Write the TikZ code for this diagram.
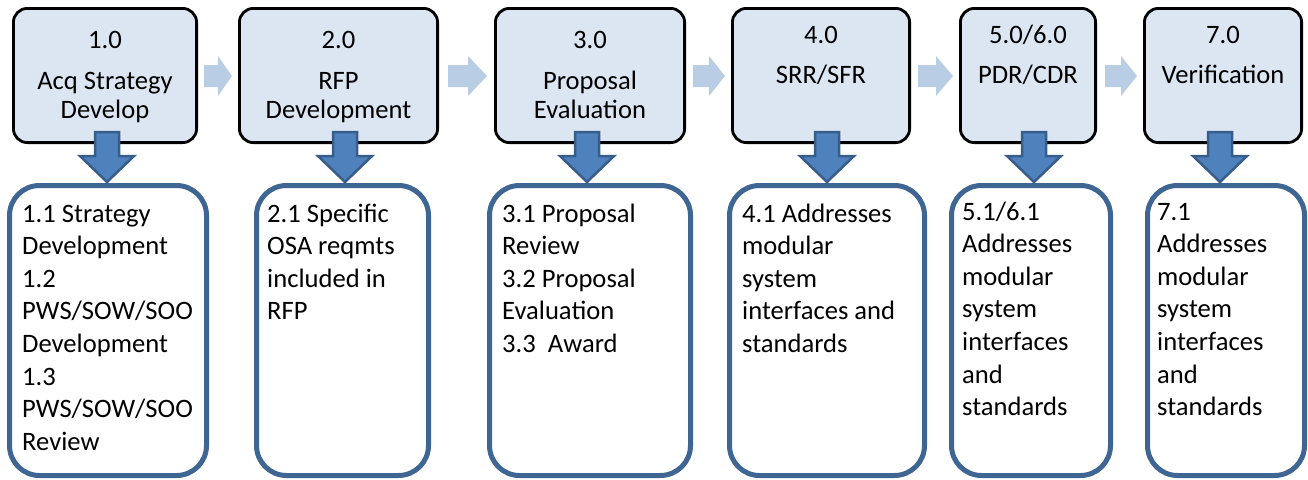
\documentclass[tikz,border=0pt]{standalone}
\usepackage{fontspec}
\setmainfont{Carlito}
\usetikzlibrary{calc}
\definecolor{stagefill}{HTML}{DCE6F2}
\definecolor{flowfill}{HTML}{B9CDE5}
\definecolor{dropfill}{HTML}{4F81BD}
\definecolor{dropline}{HTML}{385D8A}
\definecolor{taskline}{HTML}{3F6593}

\begin{document}
\begin{tikzpicture}[x=1pt,y=-1pt,
  stage/.style={draw=black, line width=2.8pt, fill=stagefill, rounded corners=14pt, inner sep=0pt},
  task/.style={draw=taskline, line width=5pt, fill=white, rounded corners=30pt, inner sep=0pt, minimum height=290pt},
  stagetext/.style={align=center, inner sep=0pt, anchor=base, font=\fontsize{26.6}{29}\selectfont},
  tasktext/.style={align=left, inner sep=0pt, anchor=base west, font=\fontsize{26.6}{32.6}\selectfont},
  flow/.style={fill=flowfill, draw=none},
  drop/.style={fill=dropfill, draw=dropline, line width=2.5pt, line join=miter},
  pics/downarrow/.style={code={
    \draw[drop] (-12,0) -- (12,0) -- (12,24) -- (27,24) -- (0,50)
      -- (-27,24) -- (-12,24) -- cycle;
  }},
]
\useasboundingbox (0,0) rectangle (1308,479);

% lower task boxes
\node[task, minimum width=197pt] (t1) at (108,330.5) {};
\node[task, minimum width=172pt] (t2) at (342.5,330.5) {};
\node[task, minimum width=201pt] (t3) at (590,330.5) {};
\node[task, minimum width=195pt] (t4) at (827,330.5) {};
\node[task, minimum width=159pt] (t5) at (1031,330.5) {};
\node[task, minimum width=157pt] (t6) at (1226,330.5) {};

% upper stage boxes
\node[stage, minimum width=183.2pt, minimum height=134.2pt] (s1) at (105,75.5) {};
\node[stage, minimum width=198.2pt, minimum height=134.2pt] (s2) at (338.5,75.5) {};
\node[stage, minimum width=189.2pt, minimum height=134.2pt] (s3) at (590,75.5) {};
\node[stage, minimum width=177.2pt, minimum height=134.2pt] (s4) at (821,75.5) {};
\node[stage, minimum width=135.2pt, minimum height=134.2pt] (s5) at (1028,75.5) {};
\node[stage, minimum width=157.2pt, minimum height=134.2pt] (s6) at (1223,75.5) {};

% stage titles (anchored at the baseline of the last line)
\node[stagetext] (l1) at (105,118) {1.0\\[12pt]Acq Strategy\\Develop};
\node[stagetext] (l2) at (338.5,118) {2.0\\[12pt]RFP\\Development};
\node[stagetext] (l3) at (590,118) {3.0\\[12pt]Proposal\\Evaluation};
\node[stagetext] (l4) at (821,83) {4.0\\[11pt]SRR/SFR};
\node[stagetext] (l5) at (1028,83) {5.0/6.0\\[11pt]PDR/CDR};
\node[stagetext] (l6) at (1223,83) {7.0\\[11pt]Verification};

% task texts (anchored at the baseline of the last line)
\node[tasktext] (x1) at (22,450.2) {1.1 Strategy\\Development\\1.2\\PWS/SOW/SOO\\Development\\1.3\\PWS/SOW/SOO\\Review};
\node[tasktext] (x2) at (267,319.8) {2.1 Specific\\OSA reqmts\\included in\\RFP};
\node[tasktext] (x3) at (502,352.4) {3.1 Proposal\\Review\\3.2 Proposal\\Evaluation\\3.3\ \ Award};
\node[tasktext] (x4) at (742,352.4) {4.1 Addresses\\modular\\system\\interfaces and\\standards};
\node[tasktext] (x5) at (962,415.6) {5.1/6.1\\Addresses\\modular\\system\\interfaces\\and\\standards};
\node[tasktext] (x6) at (1157,415.6) {7.1\\Addresses\\modular\\system\\interfaces\\and\\standards};

% flow arrows between stages
\fill[flow] (204,65) -- (218,65) -- (218,56) -- (232,76) -- (218,96) -- (218,87) -- (204,87) -- cycle;
\fill[flow] (448,65) -- (468,65) -- (468,56) -- (487,76) -- (468,96) -- (468,87) -- (448,87) -- cycle;
\fill[flow] (693,65) -- (709,65) -- (709,56) -- (725,76) -- (709,96) -- (709,87) -- (693,87) -- cycle;
\fill[flow] (918,65) -- (936,65) -- (936,56) -- (953,76) -- (936,96) -- (936,87) -- (918,87) -- cycle;
\fill[flow] (1105,65) -- (1121,65) -- (1121,56) -- (1137,76) -- (1121,96) -- (1121,87) -- (1105,87) -- cycle;

% drop arrows from each stage to its tasks
\pic at ($(s1.south)+(2,-12)$) {downarrow};
\pic at ($(s2.south)+(6.5,-12)$) {downarrow};
\pic at ($(s3.south)+(-3,-12)$) {downarrow};
\pic at ($(s4.south)+(6,-12)$) {downarrow};
\pic at ($(s5.south)+(6,-12)$) {downarrow};
\pic at ($(s6.south)+(-3,-12)$) {downarrow};
\end{tikzpicture}
\end{document}
